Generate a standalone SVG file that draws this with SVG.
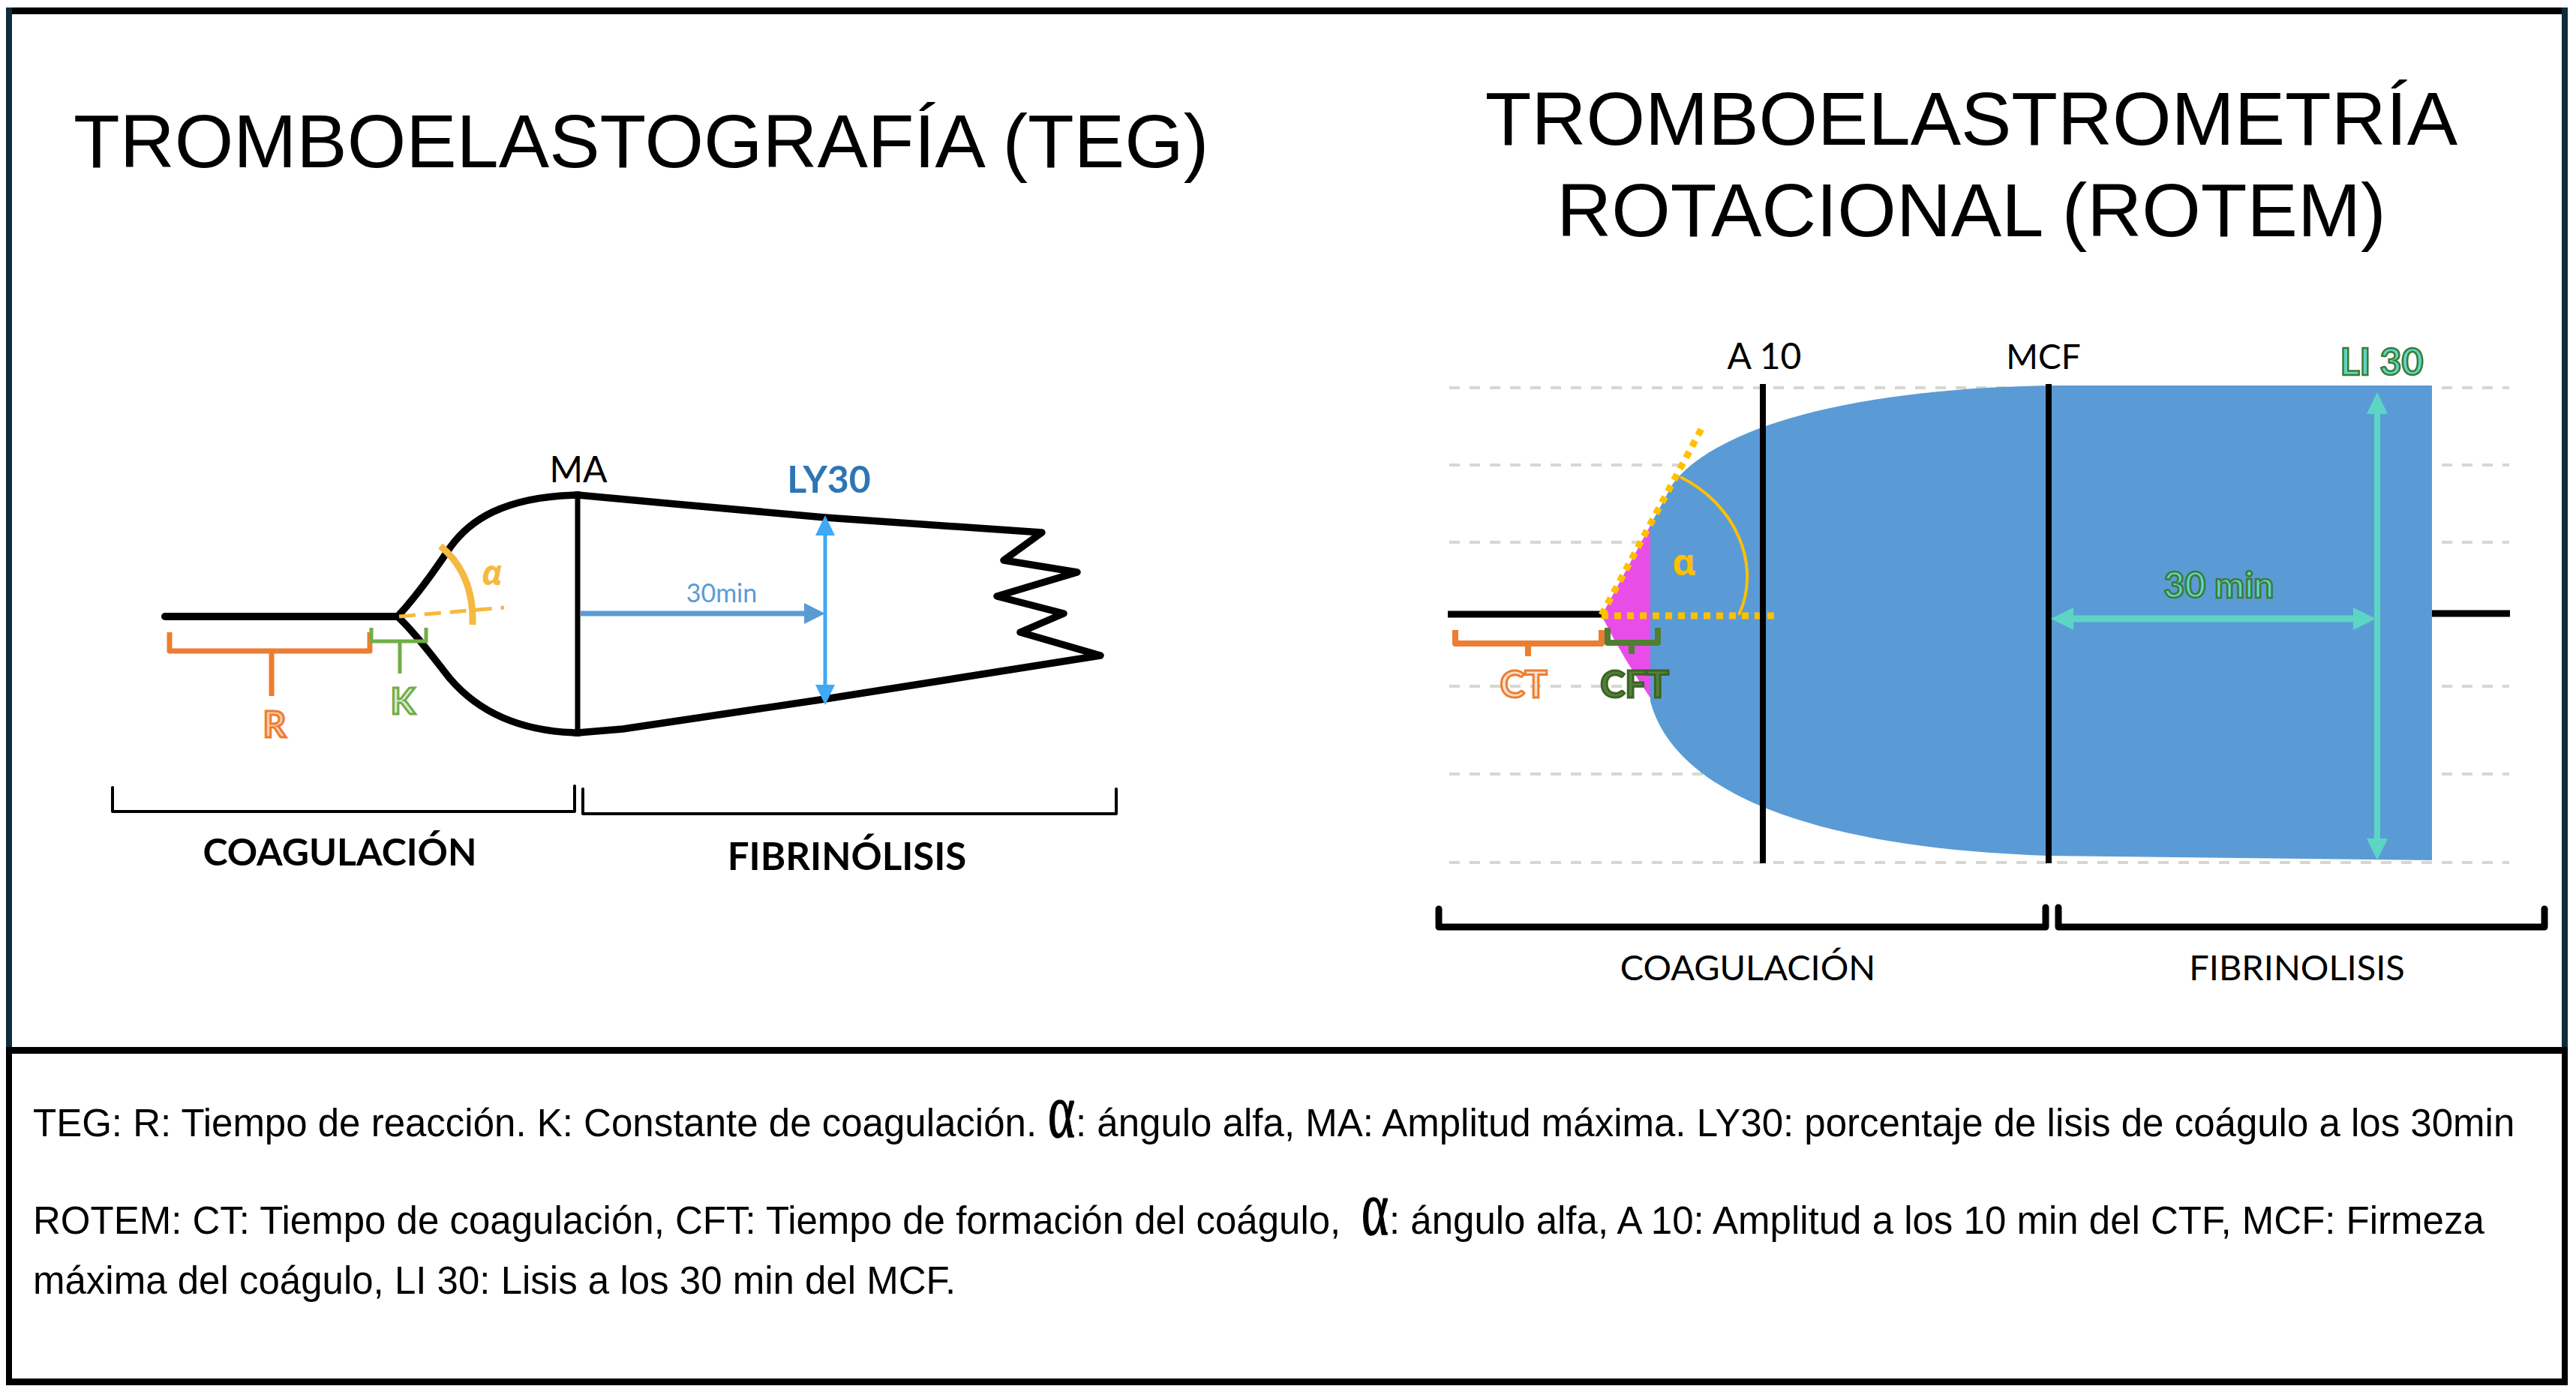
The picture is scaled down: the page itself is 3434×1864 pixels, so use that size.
<svg xmlns="http://www.w3.org/2000/svg" width="3434" height="1864" viewBox="0 0 3434 1864">
<style>
.title{font-family:"Liberation Sans",Arial,sans-serif;font-size:101px;fill:#000}
.foot{font-family:"Liberation Sans",Arial,sans-serif;font-size:51px;fill:#000}
.alpha-f{font-family:"Liberation Serif","Times New Roman",serif;font-size:104px;fill:#000;stroke:#000;stroke-width:1.5}
.cal{font-family:Lato,"Noto Sans",sans-serif}
.blk{stroke:#000;fill:none;stroke-linecap:round;stroke-linejoin:round}
.grid{stroke:#d6d7cf;stroke-width:4;stroke-dasharray:14 13;fill:none}
.dot{stroke:#FFC000;stroke-width:9;stroke-dasharray:9 8;fill:none}
</style>
<rect x="0" y="0" width="3434" height="1864" fill="#fff"/>
<g id="frame">
<line x1="8" y1="14.5" x2="3423" y2="14.5" stroke="#000" stroke-width="9"/>
<line x1="12" y1="10" x2="12" y2="1400" stroke="#0f2b3d" stroke-width="8"/>
<line x1="3419" y1="10" x2="3419" y2="1400" stroke="#0f2b3d" stroke-width="8"/>
<line x1="8" y1="1400.5" x2="3423" y2="1400.5" stroke="#000" stroke-width="9"/>
<line x1="12" y1="1400" x2="12" y2="1847" stroke="#000" stroke-width="8"/>
<line x1="3419" y1="1400" x2="3419" y2="1847" stroke="#000" stroke-width="8"/>
<line x1="8" y1="1842.5" x2="3423" y2="1842.5" stroke="#000" stroke-width="9"/>
</g>
<g id="titles">
<text class="title" x="98" y="223">TROMBOELASTOGRAFÍA (TEG)</text>
<text class="title" x="2628" y="193" text-anchor="middle">TROMBOELASTROMETRÍA</text>
<text class="title" x="2628" y="315" text-anchor="middle">ROTACIONAL (ROTEM)</text>
</g>
<g id="teg-curve">
<path class="blk" stroke-width="10" d="M220,822 L530,822"/>
<path class="blk" stroke-width="9.5" d="M530,822 C555,795 580,760 600,730 C625,695 670,662 770,660 L900,672 L1100,690 L1389,710 L1338,747 L1436,763 L1329,795 L1418,818 L1360,843 L1467,874 L1100,932 L830,972 L770,977 C680,975 630,940 600,905 C580,880 555,845 530,822"/>
<line x1="770" y1="655" x2="770" y2="982" stroke="#000" stroke-width="7"/>
</g>
<g id="teg-alpha">
<line x1="532" y1="822" x2="672" y2="810" stroke="#F5B940" stroke-width="5" stroke-dasharray="22 12"/>
<path d="M587,728 Q632,765 630,833" stroke="#F5B940" stroke-width="9" fill="none"/>
<text x="656" y="780" text-anchor="middle" font-family="'Noto Sans','DejaVu Sans',sans-serif" font-weight="bold" font-style="italic" font-size="46" fill="#F5B940">α</text>
</g>
<g id="teg-R">
<path d="M226,843 L226,868 L493,868 L493,843 M362,868 L362,928" stroke="#ED7D31" stroke-width="7" fill="none" stroke-linejoin="round"/>
<text class="cal" x="366" y="983" text-anchor="middle" font-weight="bold" font-size="48" fill="#F8CBAD" stroke="#ED7D31" stroke-width="3">R</text>
</g>
<g id="teg-K">
<path d="M495,837 L495,855 L568,855 L568,837 M533,855 L533,898" stroke="#70AD47" stroke-width="5" fill="none"/>
<text class="cal" x="537" y="952" text-anchor="middle" font-weight="bold" font-size="48" fill="#D9EAD0" stroke="#70AD47" stroke-width="3">K</text>
</g>
<g id="teg-MA">
<text class="cal" x="771" y="643" text-anchor="middle" font-size="48" fill="#000">MA</text>
</g>
<g id="teg-30min">
<line x1="774" y1="818" x2="1076" y2="818" stroke="#5B9BD5" stroke-width="7"/>
<polygon points="1072,804 1100,818 1072,832" fill="#5B9BD5"/>
<text class="cal" x="962" y="803" text-anchor="middle" font-size="34" fill="#5B9BD5">30min</text>
</g>
<g id="teg-LY30">
<line x1="1100" y1="710" x2="1100" y2="915" stroke="#3FA9F5" stroke-width="5"/>
<polygon points="1100,687 1113,714 1087,714" fill="#3FA9F5"/>
<polygon points="1100,940 1113,913 1087,913" fill="#3FA9F5"/>
<text class="cal" x="1105" y="657" text-anchor="middle" font-weight="bold" font-size="50" fill="#2E75B6">LY30</text>
</g>
<g id="teg-phases">
<path class="blk" stroke-width="4" d="M150,1050 L150,1082 L766,1082 L766,1048"/>
<path class="blk" stroke-width="4" d="M777,1052 L777,1085 L1488,1085 L1488,1052"/>
<text class="cal" x="453" y="1154" text-anchor="middle" font-weight="bold" font-size="50" fill="#000">COAGULACIÓN</text>
<text class="cal" x="1129" y="1160" text-anchor="middle" font-weight="bold" font-size="51" fill="#000">FIBRINÓLISIS</text>
</g>
<g id="rotem-grid">
<line class="grid" x1="1932" y1="517" x2="3345" y2="517"/>
<line class="grid" x1="1932" y1="620" x2="3345" y2="620"/>
<line class="grid" x1="1932" y1="723" x2="3345" y2="723"/>
<line class="grid" x1="1932" y1="915" x2="3345" y2="915"/>
<line class="grid" x1="1932" y1="1032" x2="3345" y2="1032"/>
<line class="grid" x1="1932" y1="1150" x2="3345" y2="1150"/>
</g>
<g id="rotem-curve">
<line x1="1930" y1="819" x2="2137" y2="819" stroke="#000" stroke-width="9"/>
<line x1="3240" y1="818" x2="3346" y2="818" stroke="#000" stroke-width="9"/>
<path d="M2135,821 L2203,695 L2203,935 Q2165,880 2135,821 Z" fill="#E84DE8"/>
<path d="M2200,700 L2230,645 C2275,585 2420,520 2730,514 L3242,514 L3242,1147 L2730,1141 C2400,1130 2230,1050 2200,935 Z" fill="#5B9BD5"/>
</g>
<g id="rotem-alpha">
<line class="dot" x1="2135" y1="821" x2="2365" y2="821"/>
<line class="dot" x1="2135" y1="820" x2="2268" y2="572"/>
<path d="M2240,636 C2310,670 2350,750 2318,820" stroke="#FFC000" stroke-width="4" fill="none"/>
<text x="2245" y="767" text-anchor="middle" font-family="'Noto Sans','DejaVu Sans',sans-serif" font-weight="bold" font-size="48" fill="#FFC000">α</text>
</g>
<g id="rotem-A10">
<line x1="2350" y1="512" x2="2350" y2="1151" stroke="#000" stroke-width="8"/>
<text class="cal" x="2352" y="492" text-anchor="middle" font-size="48" fill="#000">A 10</text>
</g>
<g id="rotem-MCF">
<line x1="2731" y1="512" x2="2731" y2="1151" stroke="#000" stroke-width="8"/>
<text class="cal" x="2724" y="492" text-anchor="middle" font-size="46" fill="#000">MCF</text>
</g>
<g id="rotem-CT">
<path d="M1940,840 L1940,858 L2135,858 L2135,840 M2037,858 L2037,875" stroke="#ED7D31" stroke-width="8" fill="none" stroke-linejoin="round"/>
<text class="cal" x="2031" y="930" text-anchor="middle" font-weight="bold" font-size="50" fill="#FBE0CC" stroke="#ED7D31" stroke-width="3">CT</text>
</g>
<g id="rotem-CFT">
<path d="M2143,837 L2143,857 L2210,857 L2210,837 M2175,857 L2175,872" stroke="#507E32" stroke-width="8" fill="none" stroke-linejoin="round"/>
<text class="cal" x="2179" y="930" text-anchor="middle" font-weight="bold" font-size="50" fill="#548235" stroke="#3B6326" stroke-width="3">CFT</text>
</g>
<g id="rotem-30min">
<line x1="2755" y1="825" x2="3148" y2="825" stroke="#5DD5C5" stroke-width="9"/>
<polygon points="2734,825 2764,810 2764,840" fill="#5DD5C5"/>
<polygon points="3167,825 3137,810 3137,840" fill="#5DD5C5"/>
<text class="cal" x="2958" y="797" text-anchor="middle" font-weight="bold" font-size="48" fill="#5DD5C5" stroke="#3D7A33" stroke-width="2.5">30 min</text>
</g>
<g id="rotem-LI30">
<line x1="3169" y1="545" x2="3169" y2="1125" stroke="#5DD5C5" stroke-width="8"/>
<polygon points="3169,523 3183,552 3155,552" fill="#5DD5C5"/>
<polygon points="3169,1147 3183,1118 3155,1118" fill="#5DD5C5"/>
<text class="cal" x="3175" y="500" text-anchor="middle" font-weight="bold" font-size="50" fill="#5DD5C5" stroke="#3D7A33" stroke-width="2.5">LI 30</text>
</g>
<g id="rotem-phases">
<path class="blk" stroke-width="9" d="M1918,1212 L1918,1236 L2727,1236 L2727,1210"/>
<path class="blk" stroke-width="9" d="M2744,1210 L2744,1236 L3392,1236 L3392,1212"/>
<text class="cal" x="2330" y="1307" text-anchor="middle" font-size="47" fill="#000">COAGULACIÓN</text>
<text class="cal" x="3062" y="1307" text-anchor="middle" font-size="47" fill="#000">FIBRINOLISIS</text>
</g>
<g id="legend">
<text class="foot" x="44" y="1515">TEG: R: Tiempo de reacción. K: Constante de coagulación. </text>
<text class="alpha-f" transform="translate(1397,1516) scale(0.66,1)">α</text>
<text class="foot" x="1434" y="1515">: ángulo alfa, MA: Amplitud máxima. LY30: porcentaje de lisis de coágulo a los 30min</text>
<text class="foot" x="44" y="1645">ROTEM: CT: Tiempo de coagulación, CFT: Tiempo de formación del coágulo, </text>
<text class="alpha-f" transform="translate(1815,1646) scale(0.66,1)">α</text>
<text class="foot" x="1852" y="1645">: ángulo alfa, A 10: Amplitud a los 10 min del CTF, MCF: Firmeza</text>
<text class="foot" x="44" y="1725">máxima del coágulo, LI 30: Lisis a los 30 min del MCF.</text>
</g>
</svg>
